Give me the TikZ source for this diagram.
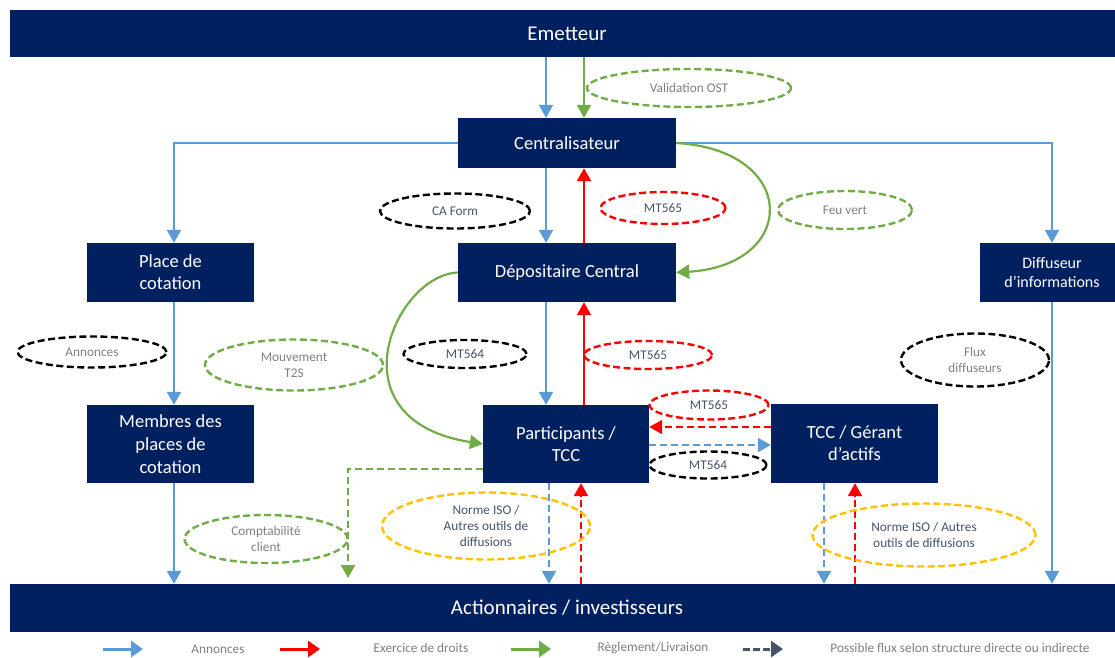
\documentclass[tikz,border=0pt]{standalone}
\usepackage{fontspec}
\setmainfont{Carlito}
\usetikzlibrary{arrows.meta,shapes.geometric}

\definecolor{navy}{HTML}{002060}
\definecolor{annblue}{HTML}{5B9BD5}
\definecolor{exred}{HTML}{FF0000}
\definecolor{rlgreen}{HTML}{70AD47}
\definecolor{isoyellow}{HTML}{FFC000}
\definecolor{slate}{HTML}{44546A}
\definecolor{softgray}{HTML}{7F7F7F}

\tikzset{
  box/.style={fill=navy, text=white, inner sep=0pt, align=center,
    font=\fontsize{18.5}{22}\selectfont},
  band/.style={box, font=\fontsize{21}{25}\selectfont,
    minimum width=1114pt, minimum height=47pt},
  tag/.style={ellipse, line width=2.4pt, dash pattern=on 7pt off 3.5pt,
    inner sep=0pt, align=center, font=\fontsize{13.3}{16}\selectfont},
  flow/.style={line width=2.2pt, -{Triangle[length=13pt,width=14pt]}},
  ann/.style={flow, color=annblue},
  ex/.style={flow, color=exred},
  rl/.style={flow, color=rlgreen},
  dsh/.style={dash pattern=on 7pt off 4pt},
  legarrow/.style={line width=3pt, -{Triangle[length=12pt,width=16pt]}},
  legtxt/.style={text=softgray, inner sep=0pt, font=\fontsize{13.3}{16}\selectfont}
}

\begin{document}
\begin{tikzpicture}[x=1pt,y=-1pt]
\useasboundingbox (0,0) rectangle (1115,657);
\clip (0,0) rectangle (1115,657);

% actors
\node[band] (emet) at (567,33.5) {Emetteur};
\node[band, minimum height=48pt] (act) at (567,608) {Actionnaires / investisseurs};
\node[box, minimum width=218pt, minimum height=50pt] (cen) at (567,143) {Centralisateur};
\node[box, minimum width=218pt, minimum height=59pt] (dep) at (567,272.5) {Dépositaire Central};
\node[box, minimum width=167pt, minimum height=59pt] (plc) at (170.5,272.5) {Place de\\cotation};
\node[box, minimum width=144pt, minimum height=59pt, font=\fontsize{16}{19}\selectfont] (diff) at (1052,272.5) {Diffuseur\\d’informations};
\node[box, minimum width=167pt, minimum height=78pt, font=\fontsize{18.5}{23}\selectfont] (mem) at (170.5,444) {Membres des\\places de\\cotation};
\node[box, minimum width=166pt, minimum height=78pt] (par) at (566,444) {Participants /\\TCC};
\node[box, minimum width=167pt, minimum height=79pt] (tcc) at (854.5,443.5) {TCC / Gérant\\d’actifs};

% columns and rows used by the flows
\coordinate (xa) at (546,0);
\coordinate (xr) at (584,0);
\coordinate (xp) at (174,0);
\coordinate (xb1) at (549,0);
\coordinate (xr1) at (581,0);
\coordinate (xb2) at (824,0);
\coordinate (xr2) at (855,0);
\coordinate (y1) at (0,427);
\coordinate (y2) at (0,445);
\coordinate (y3) at (0,469);
\coordinate (gend) at (348,578);

% announcements
\draw[ann] (xa |- emet.south) -- (xa |- cen.north);
\draw[ann] (cen.west) -| (xp |- plc.north);
\draw[ann] (cen.east) -| (diff.north);
\draw[ann] (xa |- cen.south) -- (xa |- dep.north);
\draw[ann] (xa |- dep.south) -- (xa |- par.north);
\draw[ann] (xp |- plc.south) -- (xp |- mem.north);
\draw[ann] (xp |- mem.south) -- (xp |- act.north);
\draw[ann] (diff.south) -- (diff.south |- act.north);

% exercise of rights
\draw[ex] (xr |- dep.north) -- (xr |- cen.south);
\draw[ex] (xr |- par.north) -- (xr |- dep.south);

% settlement / delivery
\draw[rl] (xr |- emet.south) -- (xr |- cen.north);
\draw[rl] (cen.east) .. controls (799,150) and (799,265) .. (dep.east);
\draw[rl] (dep.west) .. controls (395,275) and (330,420) .. (par.west);

% possible flows (direct or indirect structure)
\draw[ex, dsh] (tcc.west |- y1) -- (par.east |- y1);
\draw[ann, dsh] (par.east |- y2) -- (tcc.west |- y2);
\draw[rl, dsh] (par.west |- y3) -| (gend);
\draw[ann, dsh] (xb1 |- par.south) -- (xb1 |- act.north);
\draw[ex, dsh] (xr1 |- act.north) -- (xr1 |- par.south);
\draw[ann, dsh] (xb2 |- tcc.south) -- (xb2 |- act.north);
\draw[ex, dsh] (xr2 |- act.north) -- (xr2 |- tcc.south);

% message tags
\node[tag, draw=rlgreen, text=softgray, minimum width=204pt, minimum height=38pt] (valid) at (689,88) {Validation OST};
\node[tag, draw=black, text=slate, minimum width=150pt, minimum height=35pt] (caform) at (455,211) {CA Form};
\node[tag, draw=exred, text=slate, minimum width=125pt, minimum height=32pt] (mtA) at (663,208) {MT565};
\node[tag, draw=rlgreen, text=softgray, minimum width=134pt, minimum height=38pt] (feu) at (845,210) {Feu vert};
\node[tag, draw=black, text=softgray, minimum width=149pt, minimum height=31pt] (annon) at (92,352) {Annonces};
\node[tag, draw=rlgreen, text=softgray, minimum width=178pt, minimum height=51pt] (t2s) at (294,365) {Mouvement\\T2S};
\node[tag, draw=black, text=slate, minimum width=123pt, minimum height=28pt] (mtB) at (465,354) {MT564};
\node[tag, draw=exred, text=slate, minimum width=128pt, minimum height=28pt] (mtC) at (648,355) {MT565};
\node[tag, draw=black, text=softgray, minimum width=148pt, minimum height=53pt] (flux) at (975,360) {Flux\\diffuseurs};
\node[tag, draw=exred, text=slate, minimum width=119pt, minimum height=29pt] (mtD) at (709,405) {MT565};
\node[tag, draw=black, text=slate, minimum width=117pt, minimum height=27pt] (mtE) at (708,465) {MT564};
\node[tag, draw=rlgreen, text=softgray, minimum width=163pt, minimum height=48pt] (compta) at (266,539) {Comptabilité\\client};
\node[tag, draw=isoyellow, text=slate, minimum width=208pt, minimum height=67pt] (isoA) at (486,526) {Norme ISO /\\Autres outils de\\diffusions};
\node[tag, draw=isoyellow, text=slate, minimum width=223pt, minimum height=63pt] (isoB) at (924,535) {Norme ISO / Autres\\outils de diffusions};

% legend
\coordinate (lg1s) at (103,649); \coordinate (lg1e) at (143,649);
\coordinate (lg2s) at (280,649); \coordinate (lg2e) at (320,649);
\coordinate (lg3s) at (511,649); \coordinate (lg3e) at (551,649);
\coordinate (lg4s) at (743,649); \coordinate (lg4e) at (783,649);
\draw[legarrow, color=annblue] (lg1s) -- (lg1e);
\draw[legarrow, color=exred] (lg2s) -- (lg2e);
\draw[legarrow, color=rlgreen] (lg3s) -- (lg3e);
\draw[legarrow, color=slate, dash pattern=on 7pt off 3pt] (lg4s) -- (lg4e);
\node[legtxt] (lt1) at (218,649) {Annonces};
\node[legtxt] (lt2) at (421,648) {Exercice de droits};
\node[legtxt] (lt3) at (653,648) {Règlement/Livraison};
\node[legtxt] (lt4) at (960,648) {Possible flux selon structure directe ou indirecte};
\end{tikzpicture}
\end{document}
